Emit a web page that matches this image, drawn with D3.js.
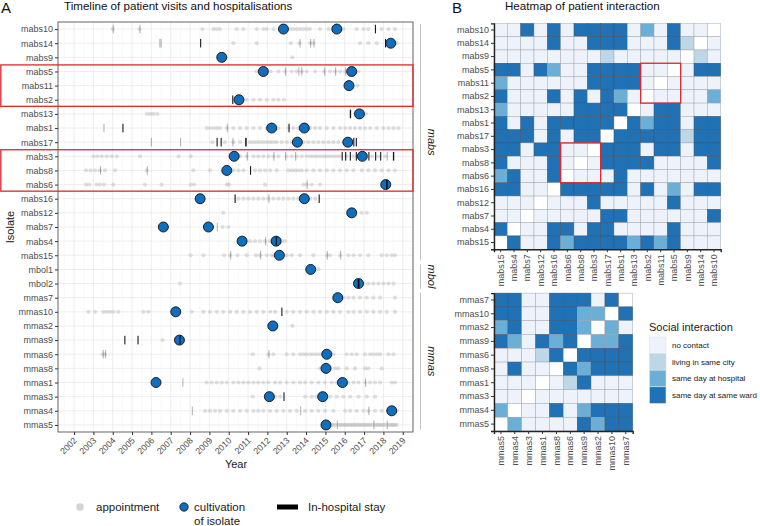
<!DOCTYPE html>
<html><head><meta charset="utf-8">
<script src="https://cdn.jsdelivr.net/npm/d3@7/dist/d3.min.js"></script>
<style>body{margin:0;background:#fff;} svg{font-family:"Liberation Sans",Arial,sans-serif;}</style>
</head><body><svg id="c" width="760" height="526"></svg>
<script>
// ---------------- DATA ----------------
const isolates = ["mabs10","mabs14","mabs9","mabs5","mabs11","mabs2","mabs13","mabs1","mabs17","mabs3","mabs8","mabs6","mabs16","mabs12","mabs7","mabs4","mabs15","mbol1","mbol2","mmas7","mmas10","mmas2","mmas9","mmas6","mmas8","mmas1","mmas3","mmas4","mmas5"];
const species = [["mabs","mabs10","mabs15"],["mbol","mbol1","mbol2"],["mmas","mmas7","mmas5"]];
const yearTicks = [2002,2003,2004,2005,2006,2007,2008,2009,2010,2011,2012,2013,2014,2015,2016,2017,2018,2019];

const appointmentYears = [
 [2004.00,2005.38,2008.64,2009.21,2009.38,2009.55,2010.41,2010.76,2011.45,2011.79,2011.97,2012.31,2013.17,2013.34,2013.52,2013.69,2013.86,2014.03,2014.20,2014.72,2015.16,2015.93,2016.62,2016.97,2017.22,2017.91,2018.26,2018.60],
 [2010.24,2011.45,2013.21,2013.66,2014.21,2014.38,2016.79,2017.22,2017.66,2018.69],
 [2013.29],
 [2011.45,2012.17,2012.57,2012.91,2013.26,2013.52,2013.78,2014.03,2014.47,2014.93,2015.24,2015.50,2015.76,2016.02,2016.71],
 [2016.66],
 [2010.93,2011.28,2011.62,2011.97,2012.31,2012.57,2012.86],
 [2005.76,2005.93,2006.10,2006.31,2017.10],
 [2008.86,2009.03,2009.21,2009.38,2009.55,2009.90,2010.24,2010.59,2010.93,2011.28,2011.62,2011.97,2012.57,2013.09,2013.34,2013.60,2014.21,2014.47,2014.72,2015.07,2015.41,2015.76,2016.02,2016.28,2016.53,2016.79,2017.05,2017.31,2017.66,2018.00,2018.26,2018.52,2018.78],
 [2009.16,2009.80,2010.24,2010.59,2011.10,2011.28,2011.45,2011.62,2011.79,2011.97,2012.14,2012.31,2012.48,2012.74,2013.00,2013.26,2013.86,2014.12,2014.38,2014.64,2014.90,2015.16,2015.41,2015.67,2015.93],
 [2003.00,2003.21,2003.43,2003.69,2003.95,2004.21,2005.41,2007.40,2008.03,2010.59,2010.93,2011.28,2011.53,2011.79,2012.05,2012.31,2012.57,2013.00,2013.26,2013.52,2013.78,2014.03,2014.21,2014.38,2014.55,2014.72,2014.90,2015.07,2015.24,2015.41,2015.59,2015.76,2016.10,2016.45,2017.05,2017.40,2017.74,2018.09],
 [2002.62,2002.86,2003.09,2003.34,2003.60,2004.12,2005.76,2008.17,2009.03,2010.24,2010.50,2010.76,2011.36,2011.62,2011.88,2012.14,2012.48,2013.09,2013.26,2013.43,2013.60,2013.78,2014.03,2014.38,2014.72,2015.07,2015.41,2015.76,2016.10,2016.45,2016.88,2017.22,2017.57,2017.91,2018.26,2018.60],
 [2002.62,2002.79,2003.17,2003.34,2003.55,2004.03,2005.67,2006.53,2008.03,2008.21,2009.90,2010.02,2011.88,2013.86,2014.03,2014.29,2014.72],
 [2010.50,2010.76,2011.02,2011.28,2011.53,2011.79,2012.05,2012.31,2012.57,2012.83,2013.09,2013.34,2013.60,2014.21,2014.47],
 [2009.72,2016.88,2017.14],
 [2009.69,2009.98],
 [2011.10,2011.36,2011.62,2011.88,2012.14,2012.31,2012.74,2012.91],
 [2008.03,2008.69,2009.76,2010.07,2010.45,2010.93,2011.41,2011.62,2011.97,2012.22,2012.34,2013.00,2013.26,2013.69,2014.38,2015.07,2015.24,2015.76,2016.19,2016.45,2016.79,2017.22,2017.91,2018.17,2018.43,2018.60],
 [2014.64],
 [2007.48,2016.97,2017.22,2017.48,2017.74,2018.00,2018.26,2018.52],
 [2015.93,2016.19,2016.45,2016.79,2017.14,2017.48,2017.83,2018.60],
 [2002.74,2003.09,2003.52,2003.69,2003.86,2004.03,2004.29,2005.59,2005.84,2008.09,2008.69,2009.03,2009.38,2009.72,2010.07,2010.41,2010.76,2011.10,2011.45,2011.79,2012.14,2012.40,2013.00,2013.34,2013.69,2014.03,2014.38,2014.72,2015.07,2015.41,2015.76,2016.19,2016.45,2016.79,2017.14,2017.48,2017.83,2018.17,2018.60],
 [2013.29],
 [2006.57],
 [2003.48,2003.60,2011.24,2012.05,2012.31,2013.00,2013.34,2013.69,2013.86,2014.03,2014.21,2014.38,2014.55,2014.72,2015.41,2016.10,2016.36,2016.62,2017.05,2017.31,2017.48,2017.66,2017.83,2018.26,2018.52],
 [2011.59,2014.72,2014.98,2015.24,2015.50,2015.67,2016.10,2016.53,2017.05,2017.22,2017.91],
 [2008.86,2009.12,2009.38,2009.64,2009.90,2010.24,2010.50,2010.76,2011.02,2011.28,2011.53,2011.79,2012.05,2012.40,2012.66,2013.00,2013.34,2013.69,2013.95,2014.29,2014.64,2014.98,2015.33,2015.59,2016.19,2016.45,2016.71,2017.05,2017.31,2017.57,2017.83,2018.43,2018.60],
 [2011.24,2012.40,2012.66,2013.95,2014.29,2014.55,2015.24,2015.59,2015.93,2016.28,2016.71,2017.14,2017.57],
 [2008.78,2009.03,2009.29,2009.55,2009.90,2010.24,2010.59,2010.93,2011.28,2011.53,2011.79,2012.14,2012.48,2012.83,2013.17,2013.52,2013.95,2014.29,2014.64,2014.98,2015.41,2016.02,2016.28,2016.62,2016.97,2017.22,2017.57,2017.91,2018.69],
 [2015.33,2015.42,2015.50,2015.67,2015.76,2015.84,2015.93,2016.02,2016.10,2016.19,2016.28,2016.36,2016.45,2016.53,2016.62,2016.71,2016.79,2016.88,2016.97,2017.05,2017.14,2017.22,2017.31,2017.40,2017.57,2017.66,2017.74,2017.83,2017.91,2018.00,2018.09,2018.26,2018.35,2018.43,2018.52,2018.60,2018.69]
];

const cultivationYears = [
 [2012.83,2015.59],[2018.38],[2009.64],[2011.79,2016.36],[2016.22],[2010.53],[2016.76],[2012.22,2013.91],[2013.55,2016.16],
 [2010.28,2016.91],[2009.90],[2018.12],[2008.52,2013.91],[2016.36],[2006.62,2008.95],[2010.69,2012.45],[2012.62],
 [2014.24],[2016.71],
 [2015.64],[2007.26],[2012.28],[2007.45],[2015.07],[2015.03],[2006.24,2015.88],[2012.10,2014.86],[2018.43],[2015.03]
];

const hospitalStays = [
 [[2004.00,2004.01],[2005.38,2005.39],[2017.56,2017.60]],
 [[2006.41,2006.42],[2006.48,2006.49],[2008.52,2008.57],[2013.66,2013.67],[2014.21,2014.22],[2014.38,2014.39],[2018.08,2018.13]],
 [],
 [[2012.91,2012.92],[2013.60,2013.62],[2013.75,2013.77],[2014.93,2014.95],[2015.50,2015.51],[2016.02,2016.03]],
 [],
 [[2010.18,2010.22]],
 [[2016.26,2016.33]],
 [[2003.52,2003.53],[2004.50,2004.55],[2009.90,2009.91],[2013.09,2013.13]],
 [[2005.97,2005.98],[2007.48,2007.49],[2009.37,2009.40],[2009.58,2009.61],[2010.19,2010.21],[2010.85,2010.93],[2016.44,2016.47],[2016.57,2016.60]],
 [[2010.93,2010.94],[2012.31,2012.32],[2012.91,2012.93],[2013.43,2013.44],[2015.84,2015.87],[2016.02,2016.05],[2016.26,2016.29],[2016.57,2016.60],[2017.22,2017.25],[2017.57,2017.60],[2017.83,2017.86],[2018.17,2018.19],[2018.49,2018.56]],
 [[2003.34,2003.35],[2005.76,2005.78],[2011.10,2011.13]],
 [[2014.03,2014.04],[2018.14,2018.22]],
 [[2010.30,2010.36],[2012.05,2012.06],[2014.65,2014.69]],
 [],
 [[2009.38,2009.39]],
 [[2011.88,2011.89],[2012.43,2012.49]],
 [[2010.07,2010.08],[2011.62,2011.63],[2015.07,2015.08],[2015.76,2015.77]],
 [],
 [[2016.67,2016.76]],
 [],
 [[2012.72,2012.76]],
 [],
 [[2004.60,2004.65],[2005.28,2005.33],[2007.45,2007.51]],
 [[2003.48,2003.49],[2003.60,2003.61],[2012.05,2012.06]],
 [],
 [[2007.60,2007.61],[2017.05,2017.06]],
 [[2012.83,2012.87]],
 [[2008.09,2008.10],[2013.69,2013.71],[2017.22,2017.23]],
 [[2015.59,2015.61],[2017.48,2017.49],[2018.17,2018.18]]
];

const highlightGroups = [["mabs5","mabs2"],["mabs3","mabs6"]];

const interactionLevels = ["no contact","living in same city","same day at hospital","same day at same ward"];
const mabsRows = ["mabs10","mabs14","mabs9","mabs5","mabs11","mabs2","mabs13","mabs1","mabs17","mabs3","mabs8","mabs6","mabs16","mabs12","mabs7","mabs4","mabs15"];
const mabsCols = ["mabs15","mabs4","mabs7","mabs12","mabs16","mabs6","mabs8","mabs3","mabs17","mabs1","mabs13","mabs2","mabs11","mabs5","mabs9","mabs14","mabs10"];
// -1 = same isolate (no value)
const mabsMatrix = [
 [0,0,3,0,3,0,3,3,3,3,0,2,0,3,0,0,-1],
 [0,0,0,0,3,0,0,3,3,3,0,0,0,3,1,-1,0],
 [0,0,0,0,0,0,0,0,1,0,0,0,0,0,-1,1,0],
 [3,3,0,3,2,0,0,3,3,3,3,0,0,-1,0,3,3],
 [2,0,0,0,0,0,0,3,3,3,3,0,-1,0,0,0,0],
 [3,0,0,0,3,0,3,0,3,2,0,-1,0,0,0,0,2],
 [2,0,0,0,0,0,3,3,3,3,-1,0,3,3,0,0,0],
 [3,0,3,0,3,3,3,3,3,-1,3,2,3,3,0,3,3],
 [3,3,3,0,3,0,3,3,-1,3,3,3,3,3,1,3,3],
 [3,3,0,3,3,0,0,-1,3,3,3,0,3,3,0,3,3],
 [3,0,0,0,3,0,-1,0,3,3,3,3,0,0,0,0,3],
 [2,3,0,0,3,-1,0,0,0,3,0,0,0,0,0,0,0],
 [3,3,0,0,-1,3,3,3,3,3,0,3,0,2,0,3,3],
 [0,0,0,-1,0,0,0,3,0,0,0,0,0,3,0,0,0],
 [0,0,-1,0,0,0,0,0,3,3,0,0,0,0,0,0,3],
 [3,-1,0,0,3,3,0,3,3,0,0,0,0,3,0,0,0],
 [-1,3,0,0,3,2,3,3,3,3,2,3,2,3,0,0,0]
];
const mmasRows = ["mmas7","mmas10","mmas2","mmas9","mmas6","mmas8","mmas1","mmas3","mmas4","mmas5"];
const mmasCols = ["mmas5","mmas4","mmas3","mmas1","mmas8","mmas6","mmas9","mmas2","mmas10","mmas7"];
const mmasMatrix = [
 [3,3,0,0,3,3,3,0,3,-1],
 [3,3,0,0,3,3,2,2,-1,3],
 [2,3,0,0,3,3,2,-1,2,0],
 [3,2,0,3,2,3,-1,2,2,3],
 [0,0,0,1,3,-1,3,3,3,3],
 [0,3,0,0,-1,3,2,3,3,3],
 [0,0,0,-1,0,1,3,0,0,0],
 [0,0,-1,0,0,0,0,0,0,0],
 [2,-1,0,0,3,0,2,3,3,3],
 [-1,2,0,0,0,0,3,2,3,3]
];
const mabsBoxes = [[["mabs5","mabs2"],["mabs2","mabs5"]],[["mabs3","mabs6"],["mabs6","mabs3"]]];

// ---------------- DRAW ----------------
const svg = d3.select("#c");
const TXT = "#4d4d4d";
const BLUE = "#0f6fbe";
const levelColor = ["#eef3fb","#bdd7e7","#6baed6","#2171b5"];

// ===== Panel A =====
const px0 = 58, px1 = 413, py0 = 22, py1 = 432;
const x = d3.scaleLinear().domain([2001.17, 2019.53]).range([px0, px1]);
const y = d3.scalePoint().domain(isolates).range([py0, py1]).padding(0.5);
const step = y.step();

const gA = svg.append("g");
// grid
const minor = yearTicks.map(t => t + 0.5).filter(t => t < 2019.53);
gA.selectAll(".gmn").data(minor.concat([2001.5])).enter().append("line")
  .attr("x1", d => x(d)).attr("x2", d => x(d)).attr("y1", py0).attr("y2", py1)
  .attr("stroke", "#f2f2f2").attr("stroke-width", 0.5);
gA.selectAll(".gmj").data(yearTicks).enter().append("line")
  .attr("x1", d => x(d)).attr("x2", d => x(d)).attr("y1", py0).attr("y2", py1)
  .attr("stroke", "#e6e6e6").attr("stroke-width", 0.7);
gA.selectAll(".gh").data(isolates).enter().append("line")
  .attr("x1", px0).attr("x2", px1).attr("y1", d => y(d)).attr("y2", d => y(d))
  .attr("stroke", "#e6e6e6").attr("stroke-width", 0.7);

// appointments
isolates.forEach((iso, i) => {
  gA.append("g").selectAll("circle").data(appointmentYears[i]).enter().append("circle")
    .attr("cx", d => x(d)).attr("cy", y(iso)).attr("r", 2.1)
    .attr("fill", "#b0b0b0").attr("fill-opacity", 0.38);
});
// cultivations
isolates.forEach((iso, i) => {
  gA.append("g").selectAll("circle").data(cultivationYears[i]).enter().append("circle")
    .attr("cx", d => x(d)).attr("cy", y(iso)).attr("r", 5)
    .attr("fill", BLUE).attr("stroke", "#111").attr("stroke-width", 0.9);
});
// hospital stays
isolates.forEach((iso, i) => {
  gA.append("g").selectAll("rect").data(hospitalStays[i]).enter().append("rect")
    .attr("x", d => x(d[0]))
    .attr("width", d => Math.max(1.1, x(d[1]) - x(d[0])))
    .attr("y", y(iso) - 4.3).attr("height", 8.6)
    .attr("fill", "#000")
    .attr("fill-opacity", d => (x(d[1]) - x(d[0])) >= 0.5 ? 0.9 : 0.28);
});
// border
gA.append("rect").attr("x", px0).attr("y", py0).attr("width", px1 - px0).attr("height", py1 - py0)
  .attr("fill", "none").attr("stroke", "#555").attr("stroke-width", 0.9);

// y axis
const yAx = gA.append("g").attr("transform", `translate(${px0},0)`)
  .call(d3.axisLeft(y).tickSize(3).tickPadding(2));
yAx.select(".domain").remove();
yAx.selectAll("line").attr("stroke", "#333");
yAx.selectAll("text").attr("font-size", 9).attr("fill", TXT);

// x axis
const xAx = gA.append("g").attr("transform", `translate(0,${py1})`)
  .call(d3.axisBottom(x).tickValues(yearTicks).tickFormat(d3.format("d")).tickSize(3));
xAx.select(".domain").remove();
xAx.selectAll("line").attr("stroke", "#333");
xAx.selectAll("text").attr("font-size", 8.8).attr("fill", TXT)
  .attr("text-anchor", "end").attr("dy", null).attr("y", 0)
  .attr("transform", "translate(3,9) rotate(-45)");

// highlight boxes
highlightGroups.forEach(([a, b]) => {
  gA.append("rect").attr("x", 0.8).attr("y", y(a) - step / 2 + 0.5)
    .attr("width", px1 - 0.8).attr("height", y(b) - y(a) + step - 1)
    .attr("fill", "none").attr("stroke", "#e0262a").attr("stroke-width", 1.3);
});

// species strips
species.forEach(([name, a, b]) => {
  const t = y(a) - step / 2 + 2, bt = y(b) + step / 2 - 2;
  gA.append("line").attr("x1", 420.5).attr("x2", 420.5).attr("y1", t).attr("y2", bt)
    .attr("stroke", "#b5b5b5").attr("stroke-width", 0.8);
  gA.append("text").attr("transform", `translate(428,${(t + bt) / 2}) rotate(90)`)
    .attr("text-anchor", "middle").attr("font-size", 11).attr("font-style", "italic")
    .attr("fill", "#1a1a1a").text(name);
});

// titles
gA.append("text").attr("x", 236).attr("y", 468).attr("text-anchor", "middle")
  .attr("font-size", 11).attr("fill", "#1a1a1a").text("Year");
gA.append("text").attr("transform", `translate(14,${(py0 + py1) / 2}) rotate(-90)`)
  .attr("text-anchor", "middle").attr("font-size", 11).attr("fill", "#1a1a1a").text("Isolate");
svg.append("text").attr("x", 1).attr("y", 13).attr("font-size", 15).attr("fill", "#111").text("A");
svg.append("text").attr("x", 64).attr("y", 9.5).attr("font-size", 11.6).attr("fill", "#111")
  .text("Timeline of patient visits and hospitalisations");

// legend A
const lg = svg.append("g");
lg.append("circle").attr("cx", 80).attr("cy", 507).attr("r", 3.8).attr("fill", "#b0b0b0").attr("fill-opacity", 0.55);
lg.append("text").attr("x", 96).attr("y", 511).attr("font-size", 11.5).attr("fill", "#1a1a1a").text("appointment");
lg.append("circle").attr("cx", 184).attr("cy", 507).attr("r", 4.2).attr("fill", BLUE).attr("stroke", "#111").attr("stroke-width", 0.8);
lg.append("text").attr("x", 194).attr("y", 511).attr("font-size", 11.5).attr("fill", "#1a1a1a").text("cultivation");
lg.append("text").attr("x", 194).attr("y", 524.5).attr("font-size", 11.5).attr("fill", "#1a1a1a").text("of isolate");
lg.append("rect").attr("x", 277).attr("y", 504.5).attr("width", 21).attr("height", 5).attr("fill", "#000");
lg.append("text").attr("x", 308).attr("y", 511).attr("font-size", 11.5).attr("fill", "#1a1a1a").text("In-hospital stay");

// ===== Panel B =====
svg.append("text").attr("x", 452).attr("y", 13).attr("font-size", 15).attr("fill", "#111").text("B");
svg.append("text").attr("x", 505).attr("y", 9.5).attr("font-size", 11.6).attr("fill", "#111")
  .text("Heatmap of patient interaction");

function heatmap(rows, cols, matrix, x0, x1, y0, y1, boxes) {
  const g = svg.append("g");
  const hx = d3.scaleBand().domain(cols).range([x0, x1]);
  const hy = d3.scaleBand().domain(rows).range([y0, y1]);
  const cells = [];
  rows.forEach((r, i) => cols.forEach((c, j) => cells.push({ r, c, v: matrix[i][j] })));
  g.selectAll("rect").data(cells).enter().append("rect")
    .attr("x", d => hx(d.c)).attr("y", d => hy(d.r))
    .attr("width", hx.bandwidth()).attr("height", hy.bandwidth())
    .attr("fill", d => d.v < 0 ? "#ffffff" : levelColor[d.v])
    .attr("stroke", d => d.v === 3 ? "#3a4f66" : "#9aa3ad").attr("stroke-width", 0.45);
  const ay = g.append("g").attr("transform", `translate(${x0},0)`).call(d3.axisLeft(hy).tickSize(3).tickPadding(2));
  ay.select(".domain").attr("stroke", "#222").attr("stroke-width", 1.4);
  ay.selectAll("line").attr("stroke", "#333");
  ay.selectAll("text").attr("font-size", 9).attr("fill", TXT);
  const ax = g.append("g").attr("transform", `translate(0,${y1})`).call(d3.axisBottom(hx).tickSize(3).tickPadding(2));
  ax.select(".domain").attr("stroke", "#222").attr("stroke-width", 1.4);
  ax.selectAll("line").attr("stroke", "#333");
  ax.selectAll("text").attr("font-size", 9).attr("fill", TXT)
    .attr("text-anchor", "end").attr("dy", "0.35em").attr("y", 0)
    .attr("transform", "translate(0,5) rotate(-90)");
  (boxes || []).forEach(([[ra, rb], [ca, cb]]) => {
    g.append("rect").attr("x", hx(ca)).attr("y", hy(ra))
      .attr("width", hx(cb) + hx.bandwidth() - hx(ca)).attr("height", hy(rb) + hy.bandwidth() - hy(ra))
      .attr("fill", "none").attr("stroke", "#e0262a").attr("stroke-width", 1.3);
  });
}
heatmap(mabsRows, mabsCols, mabsMatrix, 494, 720.7, 23.4, 249.2, mabsBoxes);
heatmap(mmasRows, mmasCols, mmasMatrix, 494, 632.7, 293.1, 431, []);

// legend B
const lb = svg.append("g");
lb.append("text").attr("x", 649).attr("y", 331).attr("font-size", 11).attr("fill", "#1a1a1a").text("Social interaction");
interactionLevels.forEach((lab, i) => {
  lb.append("rect").attr("x", 649.5).attr("y", 337 + i * 16.6).attr("width", 16.5).attr("height", 16.6)
    .attr("fill", levelColor[i]).attr("stroke", "#e0e0e0").attr("stroke-width", 0.6);
  lb.append("text").attr("x", 672).attr("y", 337 + i * 16.6 + 8.3).attr("dy", "0.35em")
    .attr("font-size", 8).attr("fill", "#1a1a1a").text(lab);
});
</script></body></html>
